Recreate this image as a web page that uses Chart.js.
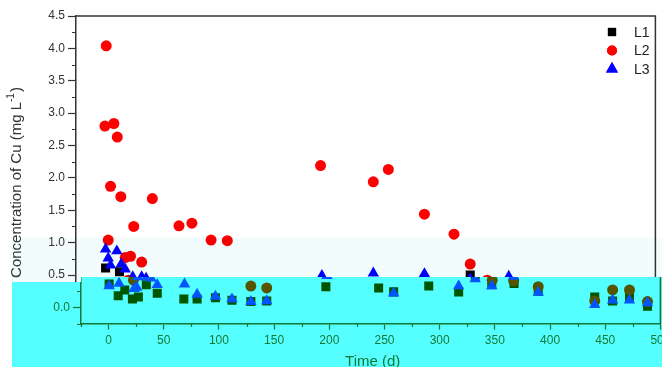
<!DOCTYPE html>
<html>
<head>
<meta charset="utf-8">
<script src="https://cdn.jsdelivr.net/npm/chart.js@4.4.0/dist/chart.umd.min.js"></script>
<style>
  html, body { margin: 0; padding: 0; background: #fff; overflow: hidden; }
  canvas { display: block; }
</style>
</head>
<body>
<canvas id="graph" width="662" height="367"></canvas>
<script>
/* values */
var seriesNames = ['L1', 'L2', 'L3'];

var xL1 = [1.8, 14.4, 332.2, 0.5, 8.7, 14.7, 21.6, 27, 34.2, 44.1, 68.2, 80.2, 96.8, 111.8, 128.9, 143.3,
           196.9, 244.7, 258.3, 290.1, 317.2, 347.2, 367.4, 389.3, 440.5, 456.7, 472, 488.3];
var yL1 = [0.61, 0.55, 0.50, 0.36, 0.18, 0.27, 0.13, 0.16, 0.35, 0.22, 0.13, 0.13, 0.15, 0.11, 0.09, 0.10,
           0.32, 0.30, 0.24, 0.33, 0.24, 0.35, 0.37, 0.25, 0.16, 0.10, 0.16, 0.02];

var xL2 = [2.4, 1.2, 9.3, 12.4, 6.3, 15.6, 44.2, 27.3, 68.3, 80, 97.4, 4.2, 19.6, 24.4, 34.5, 112.1,
           196.6, 244.4, 258, 290.7, 317.5, 332.2, 347.6, 367, 22.5,
           128.9, 143.3, 389.3, 440.5, 456.7, 472, 488.3];
var yL2 = [4.04, 2.80, 2.84, 2.63, 1.87, 1.71, 1.68, 1.25, 1.26, 1.30, 1.04, 1.04, 0.77, 0.79, 0.70, 1.03,
           2.19, 1.94, 2.13, 1.44, 1.13, 0.67, 0.42, 0.41, 0.42,
           0.33, 0.30, 0.32, 0.10, 0.27, 0.27, 0.09];

var xL3 = [1.8, 12, 4.2, 6.3, 16, 19.6, 26.4, 34.5, 38.5, 197.8, 244.4, 290.7, 367.1,
           0.5, 9.5, 23.1, 25.5, 44.1, 68.8, 80.2, 96.8, 111.8, 128.9, 143.3, 258.3, 317.2, 332.2,
           347.2, 389.3, 440.5, 456.7, 472, 488.3];
var yL3 = [0.90, 0.87, 0.76, 0.65, 0.67, 0.59, 0.47, 0.47, 0.45, 0.49, 0.53, 0.52, 0.48,
           0.33, 0.37, 0.29, 0.31, 0.35, 0.36, 0.20, 0.17, 0.13, 0.09, 0.10, 0.22, 0.33, 0.44,
           0.33, 0.23, 0.04, 0.11, 0.11, 0.07];

var xTickLabels = ['0', '50', '100', '150', '200', '250', '300', '350', '400', '450', '500'];
var yTickLabels = ['0.0', '0.5', '1.0', '1.5', '2.0', '2.5', '3.0', '3.5', '4.0', '4.5'];

var xTitle = 'Time (d)';
var yTitle = 'Concentration of Cu (mg L';

function pts(xs, ys) {
    return xs.map(function (x, i) { return {x: x, y: ys[i]}; });
}

/* major ticks + one minor in between, like the Origin axes */
function withMinor(labels) {
    var major = labels.map(Number);
    var step = (major[1] - major[0]) / 2;
    var out = [{value: major[0] - step}];
    major.forEach(function (m, i) {
        out.push({value: m});
        if (i < major.length - 1) out.push({value: m + step});
    });
    return out;
}
function labelFor(labels) {
    var map = {};
    labels.forEach(function (t) { map[Number(t)] = t; });
    return function (v) { return map[v] !== undefined ? map[v] : ''; };
}
function isMajor(labels, v) {
    return labels.map(Number).indexOf(v) >= 0;
}

var axisColor = '#333';
var font = "'Liberation Sans', Arial, sans-serif";

var decor = {
    id: 'decor',
    beforeDraw: function (chart) {
        var ctx = chart.ctx;
        ctx.save();
        ctx.fillStyle = '#fff';
        ctx.fillRect(0, 0, chart.width, chart.height);
        ctx.restore();
    },
    afterDraw: function (chart) {
        var ctx = chart.ctx, a = chart.chartArea;
        var xs = chart.scales.x, ys = chart.scales.y;
        ctx.save();

        /* box: top and right */
        ctx.strokeStyle = axisColor;
        ctx.lineWidth = 1.5;
        ctx.beginPath();
        ctx.moveTo(a.left, a.top);
        ctx.lineTo(a.right, a.top);
        ctx.lineTo(a.right, a.bottom);
        ctx.stroke();

        /* short minor ticks */
        ctx.lineWidth = 1.2;
        ctx.beginPath();
        xs.ticks.forEach(function (t) {
            if (isMajor(xTickLabels, t.value)) return;
            var px = Math.round(xs.getPixelForValue(t.value)) + 0.5;
            ctx.moveTo(px, a.bottom);
            ctx.lineTo(px, a.bottom + 3.5);
        });
        ys.ticks.forEach(function (t) {
            if (isMajor(yTickLabels, t.value)) return;
            var py = Math.round(ys.getPixelForValue(t.value)) + 0.5;
            ctx.moveTo(a.left, py);
            ctx.lineTo(a.left - 4, py);
        });
        ctx.stroke();

        /* legend */
        var ds = chart.data.datasets;
        ds.forEach(function (d, i) {
            var ly = 32 + i * 18.5;
            ctx.fillStyle = d.backgroundColor;
            Chart.helpers.drawPoint(ctx, {pointStyle: d.pointStyle, radius: d.legendRadius, rotation: 0, borderWidth: 0}, 612, ly);
            ctx.fill();
            ctx.fillStyle = '#222';
            ctx.font = '14px ' + font;
            ctx.textAlign = 'left';
            ctx.textBaseline = 'middle';
            ctx.fillText(d.label, 634, ly + 1);
        });

        /* y title with superscript */
        ctx.fillStyle = axisColor;
        ctx.translate(17, 183);
        ctx.rotate(-Math.PI / 2);
        ctx.font = '15px ' + font;
        var w1 = ctx.measureText(yTitle).width;
        ctx.font = '10px ' + font;
        var w2 = ctx.measureText('-1').width;
        ctx.font = '15px ' + font;
        var w3 = ctx.measureText(')').width;
        var sx = -(w1 + w2 + w3) / 2;
        ctx.textAlign = 'left';
        ctx.textBaseline = 'middle';
        ctx.fillText(yTitle, sx, 0);
        ctx.font = '10px ' + font;
        ctx.fillText('-1', sx + w1, -6);
        ctx.font = '15px ' + font;
        ctx.fillText(')', sx + w1 + w2 + 1, 0);
        ctx.setTransform(1, 0, 0, 1, 0, 0);

        /* x title */
        ctx.textAlign = 'center';
        ctx.fillText(xTitle, (a.left + a.right) / 2 + 2, 362);

        /* the pasted, shifted, cyan-tinted bottom strip */
        var cv = chart.canvas;
        ctx.drawImage(cv, 76, 277, 581, 90, 81, 277, 581, 90);
        ctx.drawImage(cv, 7, 282, 69, 85, 12, 282, 69, 85);
        ctx.globalCompositeOperation = 'multiply';
        ctx.fillStyle = 'rgb(85,255,255)';
        ctx.fillRect(81, 277, 581, 90);
        ctx.fillRect(12, 282, 69, 85);
        ctx.globalCompositeOperation = 'screen';
        ctx.fillStyle = 'rgb(0,85,0)';
        ctx.fillRect(81, 277, 581, 90);
        ctx.fillRect(12, 282, 69, 85);

        /* faint tint band above it */
        ctx.globalCompositeOperation = 'multiply';
        ctx.fillStyle = 'rgb(243,252,253)';
        ctx.fillRect(12, 238, 650, 39);
        ctx.fillRect(12, 277, 69, 5);
        ctx.restore();
    }
};

var context = document.getElementById('graph');

new Chart(context, {
    type: 'scatter',
    data: {
        datasets: [
            {label: seriesNames[0], data: pts(xL1, yL1), pointStyle: 'rect', pointRadius: 6.4, legendRadius: 5.8,
             backgroundColor: '#000000', borderColor: '#000000', borderWidth: 0, order: 2},
            {label: seriesNames[1], data: pts(xL2, yL2), pointStyle: 'circle', pointRadius: 5.5, legendRadius: 5,
             backgroundColor: '#ff0000', borderColor: '#ff0000', borderWidth: 0, order: 1},
            {label: seriesNames[2], data: pts(xL3, yL3), pointStyle: 'triangle', pointRadius: 6.6, legendRadius: 7,
             backgroundColor: '#0000ff', borderColor: '#0000ff', borderWidth: 0, order: 0}
        ]
    },
    options: {
        responsive: false,
        animation: false,
        events: [],
        layout: {padding: {left: 0, right: 4, top: 16, bottom: 0}},
        plugins: {legend: {display: false}, tooltip: {enabled: false}},
        scales: {
            x: {
                type: 'linear',
                min: -25,
                max: 500,
                afterBuildTicks: function (s) { s.ticks = withMinor(xTickLabels); },
                afterFit: function (s) { s.height = 43.4; s.paddingLeft = 0; s.paddingRight = 0; },
                border: {color: axisColor, width: 1.5},
                grid: {drawOnChartArea: false, drawTicks: true, tickLength: 6, tickWidth: 1.2,
                       tickColor: function (c) { return c.tick && isMajor(xTickLabels, c.tick.value) ? axisColor : 'rgba(0,0,0,0)'; }},
                ticks: {autoSkip: false, maxRotation: 0, padding: 3.5, color: axisColor,
                        font: {size: 12, family: font}, callback: labelFor(xTickLabels)},
                title: {display: false}
            },
            y: {
                type: 'linear',
                min: -0.25,
                max: 4.5,
                afterBuildTicks: function (s) { s.ticks = withMinor(yTickLabels); },
                afterFit: function (s) { s.width = 76; s.paddingTop = 0; s.paddingBottom = 0; },
                border: {color: axisColor, width: 1.5},
                grid: {drawOnChartArea: false, drawTicks: true, tickLength: 8, tickWidth: 1.2,
                       tickColor: function (c) { return c.tick && isMajor(yTickLabels, c.tick.value) ? axisColor : 'rgba(0,0,0,0)'; }},
                ticks: {autoSkip: false, padding: 3, color: axisColor,
                        font: {size: 12, family: font}, callback: labelFor(yTickLabels)},
                title: {display: false}
            }
        }
    },
    plugins: [decor]
});
</script>
</body>
</html>
